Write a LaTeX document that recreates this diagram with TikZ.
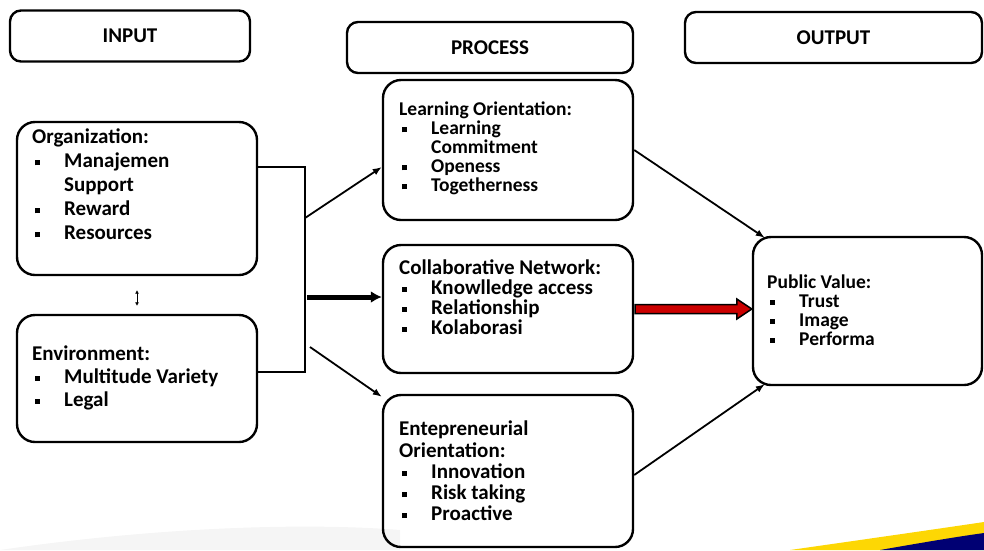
\documentclass[tikz,border=0pt]{standalone}
\usepackage{fontspec}
\setmainfont{Carlito}
\usetikzlibrary{arrows.meta,calc}
\newcommand{\blt}{\makebox[32pt][l]{\hspace{3pt}\rule[2.5pt]{5pt}{5pt}}}
\newcommand{\bltgap}{\hspace*{32pt}}

\begin{document}
\begin{tikzpicture}[>=latex, x=1pt, y=-1pt, font=\bfseries,
	hbox/.style={draw, line width=2.4pt, rounded corners=11pt, minimum height=51pt, font=\bfseries\fontsize{21}{22}\selectfont},
	box/.style={draw, line width=2.4pt, rounded corners=18pt},
	txt/.style={anchor=north west, inner sep=0pt, align=left},
	conn/.style={line width=1.8pt, -{Latex[length=9pt,width=7pt]}}]
	\useasboundingbox (0,0) rectangle (984,550);
	%Swoosh
	\fill[gray!8] (0,550) .. controls (150,528) and (300,522) .. (400,530) -- (400,550) -- cycle;
	\fill[yellow!75!orange] (790,550) .. controls (860,540) and (930,530) .. (984,522) -- (984,550) -- cycle;
	\fill[blue!45!black] (880,550) .. controls (920,543) and (955,537) .. (984,533) -- (984,550) -- cycle;
	%Titoli
	\node [hbox, minimum width=240] (input) at (130,36) {INPUT};
	\node [hbox, minimum width=286] (process) at (490,47.5) {PROCESS};
	\node [hbox, minimum width=297] (output) at (833.5,37.5) {OUTPUT};
	%Input
	\node [box, minimum width=240, minimum height=153] (org) at (137,198.5) {};
	\node [txt, font=\bfseries\fontsize{21}{24}\selectfont] (orgtxt) at (32,129) {Organization:\\
		\blt Manajemen\\ \bltgap Support\\ \blt Reward\\ \blt Resources};
	\node [box, minimum width=240, minimum height=127] (env) at (137,378.5) {};
	\node [txt, font=\bfseries\fontsize{21}{23}\selectfont] (envtxt) at (32,345.5) {Environment:\\
		\blt Multitude Variety\\ \blt Legal};
	\draw [<->, line width=1pt, >={Latex[length=3.5pt,width=4pt]}] ([yshift=-14pt]org.south) -- ([yshift=8pt]env.north);
	%Process
	\node [box, minimum width=250, minimum height=140] (learn) at (508,150) {};
	\node [txt, font=\bfseries\fontsize{19.5}{19}\selectfont] (learntxt) at (399,102) {Learning Orientation:\\
		\blt Learning\\ \bltgap Commitment\\ \blt Openess\\ \blt Togetherness};
	\node [box, minimum width=250, minimum height=128] (collab) at (508,309) {};
	\node [txt, font=\bfseries\fontsize{21}{20}\selectfont] (collabtxt) at (399,259.5) {Collaborative Network:\\
		\blt Knowlledge access\\ \blt Relationship\\ \blt Kolaborasi};
	\node [box, minimum width=250, minimum height=152] (entre) at (508,471) {};
	\node [txt, font=\bfseries\fontsize{21}{21.2}\selectfont] (entretxt) at (399,421) {Entepreneurial\\ Orientation:\\
		\blt Innovation\\ \blt Risk taking\\ \blt Proactive};
	%Output
	\node [box, minimum width=229, minimum height=148] (pv) at (867.5,311) {};
	\node [txt, font=\bfseries\fontsize{19.5}{19}\selectfont] (pvtxt) at (767,274.5) {Public Value:\\
		\blt Trust\\ \blt Image\\ \blt Performa};
	%Collegamenti
	\coordinate (j1) at (305,167);
	\coordinate (j2) at (305,372);
	\draw [line width=1.8pt] (org.east |- j1) -- (j1) -- (j2) -- (env.east |- j2);
	\coordinate (a1) at (305,218);
	\coordinate (a2) at (307,297);
	\coordinate (a3) at (310,347);
	\draw [conn] (a1) -- ([yshift=-17pt]learn.west);
	\draw [line width=5pt, -{Latex[length=11pt,width=12pt]}] (a2) -- (collab.west |- a2);
	\draw [conn] (a3) -- ([yshift=-3pt]entre.north west);
	\draw [conn] (learn.east) -- ([xshift=13pt,yshift=-2pt]pv.north west);
	\draw [conn] ([yshift=-4pt]entre.east) -- ([xshift=13pt,yshift=2pt]pv.south west);
	\coordinate (rtip) at (collab.east -| pv.west);
	\draw [line width=1.5pt, fill=red!80!black] ($(collab.east)+(1,4.5)$) -- ($(rtip)+(-15,4.5)$) -- ($(rtip)+(-15,10)$)
		-- (rtip) -- ($(rtip)+(-15,-10)$) -- ($(rtip)+(-15,-4.5)$) -- ($(collab.east)+(1,-4.5)$) -- cycle;
\end{tikzpicture}
\end{document}
